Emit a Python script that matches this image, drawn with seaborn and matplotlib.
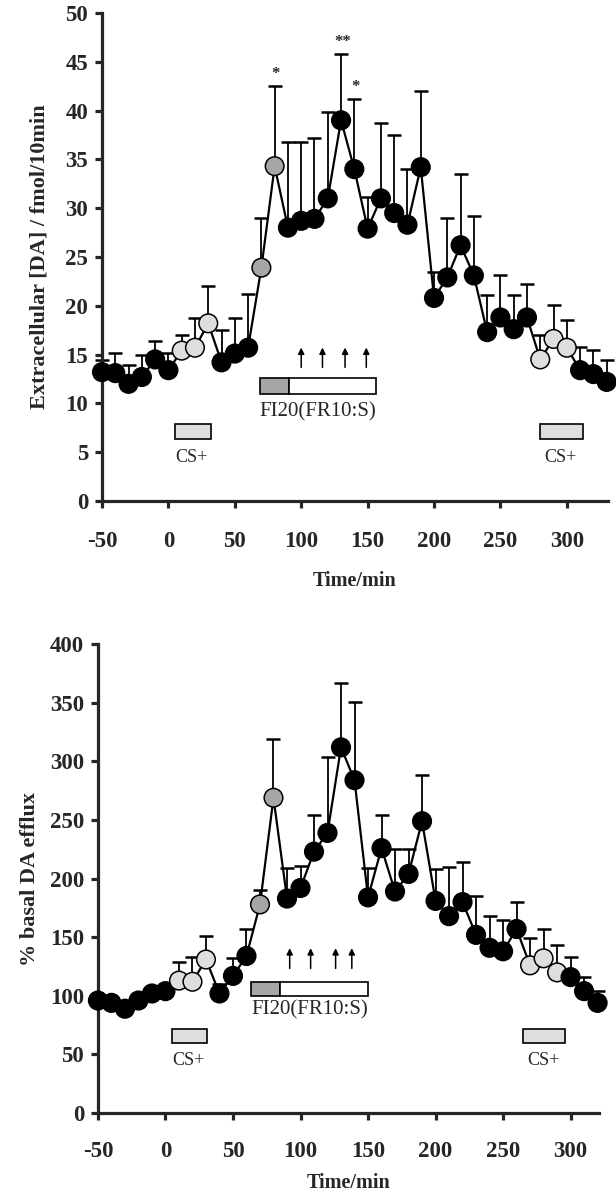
import numpy as np
import pandas as pd
import matplotlib
matplotlib.use("Agg")
import matplotlib.pyplot as plt
import seaborn as sns
from matplotlib.patches import Rectangle

# ---- data: top panel (absolute DA, fmol/10min) ----
time_top = list(range(-50, 331, 10))
da_mean = [13.2, 13.1, 12.0, 12.7, 14.5, 13.4, 15.4, 15.7, 18.2, 14.2,
           15.1, 15.7, 23.9, 34.3, 28.0, 28.7, 28.9, 31.0, 39.0, 34.0,
           27.9, 31.0, 29.5, 28.3, 34.2, 20.8, 22.9, 26.2, 23.1, 17.3,
           18.8, 17.6, 18.8, 14.5, 16.6, 15.7, 13.4, 13.0, 12.2]
da_sem = [1.2, 2.1, 1.9, 2.3, 1.9, 1.8, 1.6, 3.0, 3.8, 3.3,
          3.6, 5.5, 5.1, 8.2, 8.8, 8.1, 8.3, 8.8, 6.8, 7.2,
          3.2, 7.7, 8.0, 5.7, 7.8, 2.7, 6.1, 7.3, 6.1, 3.8,
          4.4, 3.5, 3.4, 2.5, 3.5, 2.8, 2.4, 2.5, 2.2]
cs_top = [10, 20, 30, 280, 290, 300]
fi_top = [70, 80]
stars_top = {80: "*", 130: "**", 140: "*"}

# ---- data: bottom panel (% basal) ----
time_bot = list(range(-50, 321, 10))
pct_mean = [96, 94, 89, 96, 102, 104, 113, 112, 131, 102,
            117, 134, 178, 269, 183, 192, 223, 239, 312, 284,
            184, 226, 189, 204, 249, 181, 168, 180, 152, 141,
            138, 157, 126, 132, 120, 116, 104, 94]
pct_sem = [3, 3, 3, 4, 4, 4, 16, 21, 20, 8,
           15, 23, 12, 50, 26, 19, 31, 65, 55, 67,
           25, 28, 36, 21, 39, 27, 42, 34, 33, 27,
           27, 23, 23, 25, 23, 17, 12, 10]
cs_bot = [10, 20, 30, 270, 280, 290]
fi_bot = [70, 80]

palette = {"base": "black", "cs": "#dedede", "fi": "#a6a6a6"}

sns.set_style("ticks")
plt.rcParams["font.family"] = ["Liberation Serif", "DejaVu Serif"]
plt.rcParams["axes.unicode_minus"] = False


def make_df(t, m, s, cs, fi):
    df = pd.DataFrame({"time": t, "value": m, "sem": s})
    df["group"] = "base"
    df.loc[df["time"].isin(cs), "group"] = "cs"
    df.loc[df["time"].isin(fi), "group"] = "fi"
    return df


def draw_panel(ax, df, xlim, ylim, yticks, ylabel, cs_boxes, fi_box, arrows, arrow_y, box_h,
               ylabelpad, xpad, xlabelpad):
    ax.errorbar(df["time"], df["value"], yerr=[np.zeros(len(df)), df["sem"]],
                fmt="none", ecolor="black", elinewidth=1.3, capsize=5, capthick=1.8,
                zorder=2, clip_on=False)
    sns.lineplot(data=df, x="time", y="value", color="black", lw=1.6, ax=ax,
                 zorder=3, clip_on=False)
    sns.scatterplot(data=df, x="time", y="value", hue="group", palette=palette,
                    s=180, edgecolor="black", linewidth=1.1, legend=False, ax=ax,
                    zorder=4, clip_on=False)

    ax.set_xlim(*xlim)
    ax.set_ylim(*ylim)
    ax.set_xticks(np.arange(-50, 301, 50))
    ax.set_yticks(yticks)
    sns.despine(ax=ax)
    for sp in ["left", "bottom"]:
        ax.spines[sp].set_linewidth(2.3)
    ax.tick_params(width=2.3, length=5, labelsize=16.5)
    ax.tick_params(axis="x", pad=xpad)
    ax.tick_params(axis="y", pad=5)
    for lab in ax.get_xticklabels() + ax.get_yticklabels():
        lab.set_fontweight("bold")
    ax.set_xlabel("Time/min", fontsize=14.5, fontweight="bold", labelpad=xlabelpad)
    ax.set_ylabel(ylabel, fontsize=16, fontweight="bold", labelpad=ylabelpad)

    # CS+ boxes
    for x0, x1, y0, ytxt in cs_boxes:
        ax.add_patch(Rectangle((x0, y0), x1 - x0, box_h, facecolor="#dedede",
                               edgecolor="black", lw=1.2, zorder=1))
        ax.text((x0 + x1) / 2 - 1, ytxt, "CS+", ha="center", va="center", fontsize=13)
    # FI20 box
    x0, xm, x1, y0, ytxt = fi_box
    ax.add_patch(Rectangle((x0, y0), xm - x0, box_h, facecolor="#a6a6a6",
                           edgecolor="black", lw=1.2, zorder=1))
    ax.add_patch(Rectangle((xm, y0), x1 - xm, box_h, facecolor="white",
                           edgecolor="black", lw=1.2, zorder=1))
    ax.text((x0 + x1) / 2, ytxt, "FI20(FR10:S)", ha="center", va="center", fontsize=15)
    for xa in arrows:
        ax.annotate("", xy=(xa, arrow_y[1]), xytext=(xa, arrow_y[0]),
                    arrowprops=dict(arrowstyle="-|>", color="black", lw=1.1,
                                    mutation_scale=9))


fig = plt.figure(figsize=(6.16, 11.99), dpi=100)
ax1 = fig.add_axes([0.1656, 0.5822, 0.8214, 0.407])
ax2 = fig.add_axes([0.159, 0.0717, 0.8133, 0.391])

df_top = make_df(time_top, da_mean, da_sem, cs_top, fi_top)
df_bot = make_df(time_bot, pct_mean, pct_sem, cs_bot, fi_bot)

draw_panel(ax1, df_top, (-50, 331), (0, 50), np.arange(0, 51, 5),
           "Extracellular [DA] / fmol/10min",
           cs_boxes=[(5, 32, 6.3, 4.5), (280, 312, 6.3, 4.5)],
           fi_box=(69, 91, 156, 11.0, 9.1),
           arrows=[100, 116, 133, 149], arrow_y=(13.4, 16.0), box_h=1.6,
           ylabelpad=11, xpad=17, xlabelpad=13)
for t, s in stars_top.items():
    row = df_top[df_top["time"] == t].iloc[0]
    ax1.text(t + 1, row["value"] + row["sem"] + 0.4, s, ha="center", va="bottom",
             fontsize=12, fontweight="bold")

draw_panel(ax2, df_bot, (-50, 321), (0, 400), np.arange(0, 401, 50),
           "% basal DA efflux",
           cs_boxes=[(5, 31, 59.5, 45), (265, 296, 59.5, 45)],
           fi_box=(63.5, 84.5, 150, 100, 88),
           arrows=[92, 107.5, 126, 138], arrow_y=(121, 143), box_h=12,
           ylabelpad=7, xpad=15, xlabelpad=8)

fig.savefig("out.png", dpi=100)
